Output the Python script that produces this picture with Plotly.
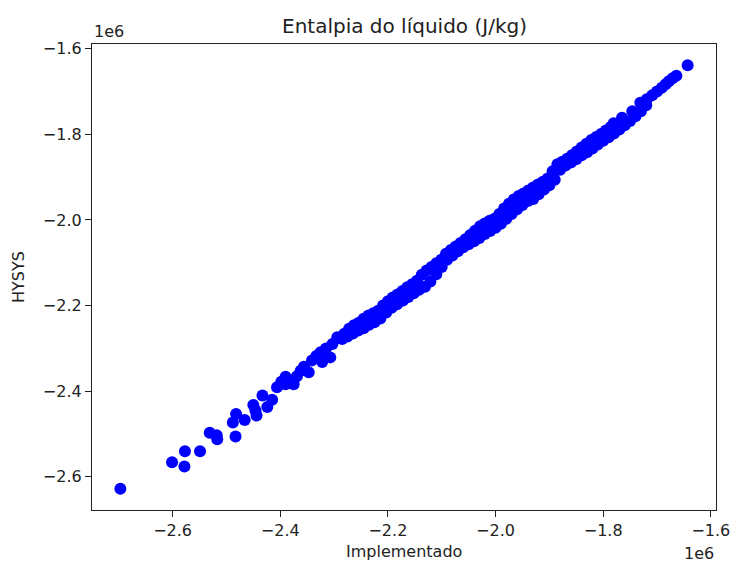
import plotly.graph_objects as go

# values in units of 1e6 J/kg
SCALE = 1e6

implementado = [
    -2.697, -2.601, -2.577, -2.578, -2.549, -2.531, -2.518, -2.517, -2.483, -2.488,
    -2.482, -2.466, -2.450, -2.446, -2.444, -2.433, -2.424, -2.415, -2.406, -2.390,
    -2.375, -2.381, -2.390, -2.362, -2.347, -2.341, -2.325, -2.322, -2.307, -2.303,
    -2.294, -2.356, -2.333, -2.315, -2.369, -2.398,
    # upper row
    -2.290, -2.281, -2.272, -2.263, -2.254, -2.245, -2.236, -2.227, -2.218, -2.209,
    -2.200, -2.191, -2.182, -2.173, -2.164, -2.155, -2.146, -2.137, -2.128, -2.119,
    -2.110, -2.101, -2.092, -2.083, -2.074, -2.065, -2.056, -2.047, -2.038, -2.029,
    -2.020, -2.011, -2.002, -1.993, -1.984, -1.975, -1.966, -1.957, -1.948, -1.939,
    -1.930, -1.921, -1.912, -1.903, -1.894, -1.885, -1.876, -1.867, -1.858, -1.849,
    -1.840, -1.831, -1.822, -1.813, -1.804, -1.795, -1.786,
    # lower row
    -2.285, -2.275, -2.265, -2.255, -2.245, -2.235, -2.225, -2.214, -2.203, -2.193,
    -2.183, -2.172, -2.162, -2.152, -2.142, -2.131, -2.121, -2.110, -2.100, -2.090,
    -2.080, -2.070, -2.060, -2.050, -2.040, -2.030, -2.020, -2.010, -2.000, -1.990,
    -1.980, -1.970, -1.960, -1.950, -1.940, -1.930, -1.920, -1.910, -1.900, -1.890,
    -1.880, -1.870, -1.860, -1.850, -1.840, -1.830, -1.820, -1.810, -1.800, -1.790,
    -1.780, -1.770, -1.760, -1.750, -1.740, -1.730, -1.720,
    # top
    -1.7805, -1.765, -1.746, -1.731, -1.719, -1.709, -1.700, -1.691, -1.684, -1.678,
    -1.671, -1.664, -1.6431,
]

hysys = [
    -2.628, -2.566, -2.540, -2.576, -2.540, -2.497, -2.503, -2.512, -2.506, -2.473,
    -2.453, -2.467, -2.432, -2.445, -2.457, -2.410, -2.437, -2.420, -2.391, -2.384,
    -2.384, -2.375, -2.366, -2.352, -2.356, -2.328, -2.309, -2.332, -2.321, -2.290,
    -2.274, -2.343, -2.318, -2.300, -2.365, -2.378,
    # upper row
    -2.275, -2.266, -2.254, -2.246, -2.240, -2.231, -2.223, -2.218, -2.212, -2.200,
    -2.190, -2.181, -2.174, -2.166, -2.157, -2.150, -2.142, -2.128, -2.118, -2.110,
    -2.101, -2.093, -2.079, -2.070, -2.062, -2.054, -2.045, -2.035, -2.025, -2.015,
    -2.008, -2.002, -1.997, -1.986, -1.973, -1.962, -1.952, -1.944, -1.938, -1.931,
    -1.924, -1.917, -1.911, -1.903, -1.886, -1.870, -1.864, -1.857, -1.849, -1.840,
    -1.831, -1.822, -1.813, -1.806, -1.799, -1.791, -1.783,
    # lower row
    -2.278, -2.272, -2.265, -2.258, -2.253, -2.245, -2.239, -2.230, -2.216, -2.205,
    -2.197, -2.188, -2.180, -2.171, -2.163, -2.156, -2.144, -2.127, -2.110, -2.093,
    -2.083, -2.073, -2.064, -2.057, -2.050, -2.042, -2.033, -2.026, -2.018, -2.009,
    -1.997, -1.986, -1.975, -1.965, -1.956, -1.951, -1.940, -1.929, -1.919, -1.906,
    -1.883, -1.873, -1.866, -1.858, -1.849, -1.842, -1.833, -1.824, -1.815, -1.807,
    -1.798, -1.789, -1.779, -1.769, -1.758, -1.746, -1.732,
    # top
    -1.7744, -1.761, -1.746, -1.726, -1.718, -1.709, -1.700, -1.691, -1.683, -1.676,
    -1.669, -1.663, -1.6385,
]

x_ticks = [-2.6, -2.4, -2.2, -2.0, -1.8, -1.6]
y_ticks = [-2.6, -2.4, -2.2, -2.0, -1.8, -1.6]

title = "Entalpia do líquido (J/kg)"
xlabel = "Implementado"
ylabel = "HYSYS"

xs = [v * SCALE for v in implementado]
ys = [v * SCALE for v in hysys]


def lbl(v):
    return ("%.1f" % v).replace("-", "\u2212")


def auto_range(vals):
    lo, hi = min(vals), max(vals)
    m = 0.05 * (hi - lo)
    return [lo - m, hi + m]


FONT = "DejaVu Sans"

fig = go.Figure()
fig.add_trace(go.Scatter(
    x=xs, y=ys, mode="markers",
    marker=dict(color="#0000ff", size=12, line=dict(width=0)),
    showlegend=False,
))

axis_common = dict(
    showgrid=False, zeroline=False, automargin=False,
    showline=True, mirror=True, linecolor="#222", linewidth=1.2,
    ticks="outside", ticklen=6, tickwidth=1.2, tickcolor="#222",
    tickfont=dict(family=FONT, size=16, color="#222"),
)

fig.update_xaxes(
    range=auto_range(xs),
    tickvals=[v * SCALE for v in x_ticks], ticktext=[lbl(v) for v in x_ticks],
    **axis_common,
)
fig.update_yaxes(
    range=auto_range(ys),
    tickvals=[v * SCALE for v in y_ticks], ticktext=[lbl(v) for v in y_ticks],
    **axis_common,
)

fig.update_layout(
    width=732, height=563,
    margin=dict(l=92, r=16, t=44, b=53),
    plot_bgcolor="white", paper_bgcolor="white",
    font=dict(family=FONT, color="#222"),
    annotations=[
        dict(text=title, xref="paper", yref="paper", x=0.5, y=1, yshift=18,
             xanchor="center", yanchor="middle", showarrow=False,
             font=dict(family=FONT, size=20, color="#222")),
        dict(text=xlabel, xref="paper", yref="paper", x=0.5, y=0, yshift=-41,
             xanchor="center", yanchor="middle", showarrow=False,
             font=dict(family=FONT, size=16, color="#222")),
        dict(text=ylabel, xref="paper", yref="paper", x=0, y=0.5, xshift=-74,
             xanchor="center", yanchor="middle", textangle=-90, showarrow=False,
             font=dict(family=FONT, size=16, color="#222")),
        dict(text="1e6", xref="paper", yref="paper", x=0, y=1, yshift=13,
             xanchor="left", yanchor="middle", showarrow=False,
             font=dict(family=FONT, size=16, color="#222")),
        dict(text="1e6", xref="paper", yref="paper", x=1, y=0, yshift=-43,
             xanchor="right", yanchor="middle", showarrow=False,
             font=dict(family=FONT, size=16, color="#222")),
    ],
)

fig.write_html("out.html")
